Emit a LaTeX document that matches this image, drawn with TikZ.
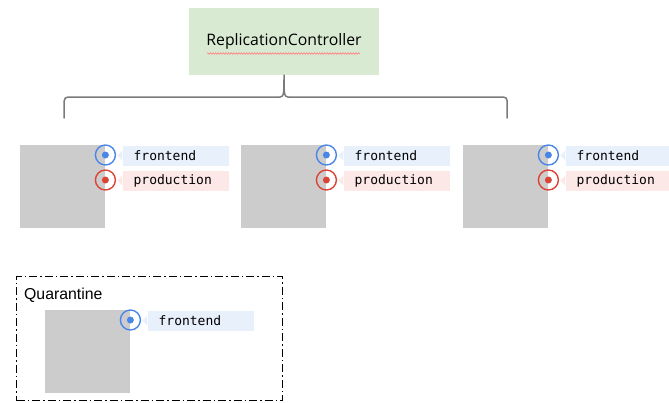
\documentclass[tikz,border=0pt]{standalone}
\usepackage{fontspec}
\setmainfont{Liberation Sans}
\newfontfamily\rcfont{Open Sans}
\newfontfamily\labelfont{DejaVu Sans Mono}
\usetikzlibrary{calc,decorations.pathmorphing}

\definecolor{rcgreen}{HTML}{D9EAD3}
\definecolor{podgray}{HTML}{CCCCCC}
\definecolor{selblue}{HTML}{4A86E8}
\definecolor{selred}{HTML}{DB4437}
\definecolor{tagblue}{HTML}{E8F0FC}
\definecolor{tagred}{HTML}{FCE8E6}
\definecolor{bracegray}{HTML}{7A7A7A}

\tikzset{
  controller/.style={fill=rcgreen, minimum width=190pt, minimum height=67pt, inner sep=0,
    font=\rcfont\fontsize{15.8}{18}\selectfont},
  pod/.style={fill=podgray, minimum width=85pt, minimum height=83pt, inner sep=0, anchor=north west},
  selring/.style={circle, draw=#1, line width=1.4pt, minimum size=20pt, inner sep=0},
  seldot/.style={circle, fill=#1, minimum size=7pt, inner sep=0},
  tag/.style={fill=#1, minimum width=106pt, minimum height=20pt, inner xsep=11pt, inner ysep=0,
    anchor=west, text width=84pt, align=left, font=\labelfont\fontsize{13}{15}\selectfont},
  brace/.style={draw=bracegray, line width=1.5pt, line cap=round, line join=round},
  quarantine/.style={draw=black, line width=1.4pt, dash pattern=on 8pt off 3pt on 1.5pt off 3pt},
}

% a selector ring with its dot and a tag label to its right
\newcommand{\selector}[4]{% name, anchor point, colour name, label
  \node[selring=sel#3] (#1) at (#2) {};
  \node[seldot=sel#3] at (#1.center) {};
  \node[tag=tag#3] (#1t) at ($(#1.center)+(17,0.5)$) {#4};
  \fill[tag#3] ($(#1t.west)+(0,-5)$) -- ($(#1t.west)+(-5,0)$) -- ($(#1t.west)+(0,5)$) -- cycle;
}

\begin{document}
\begin{tikzpicture}[x=1pt, y=-1pt]
  \useasboundingbox (0,0) rectangle (669,402);

  % replication controller
  \node[controller] (rc) at (284,41.5) {\raisebox{-2pt}{ReplicationController}};
  \draw[decorate, decoration={snake, amplitude=0.8pt, segment length=2.6pt},
        red!50, line width=0.6pt] ($(rc.center)+(-77,12)$) -- ($(rc.center)+(76,12)$);

  % managed pods
  \foreach \i/\x in {1/20, 2/241, 3/463} {
    \node[pod] (p\i) at (\x,145) {};
    \selector{fe\i}{$(p\i.north east)+(0,10)$}{blue}{frontend}
    \selector{pr\i}{$(p\i.north east)+(0,35)$}{red}{production}
  }

  % brace from the controller to the pods
  \coordinate (bl) at ($(p1.north)+(1.5,-27)$);
  \coordinate (br) at ($(p3.north)+(1.5,-27)$);
  \draw[brace] (bl) -- ++(0,-17) .. controls ++(0,-2.5) and ++(-2.5,0) .. ++(4,-4)
    -- (280,97) .. controls (284,97) and (284,93) .. (rc.south)
    .. controls (284,93) and (284,97) .. (288,97)
    -- ($(br)+(-4,-21)$) .. controls ++(2.5,0) and ++(0,-2.5) .. ($(br)+(0,-17)$) -- (br);

  % quarantined pod
  \node[quarantine, minimum width=266pt, minimum height=124pt, inner sep=0, anchor=north west]
    (q) at (16,276) {};
  \node[anchor=base west, inner sep=0, font=\fontsize{15.8}{18}\selectfont] (qt) at (24,299) {Quarantine};
  \node[pod] (p4) at (45,310) {};
  \selector{fe4}{$(p4.north east)+(0,10)$}{blue}{frontend}
\end{tikzpicture}
\end{document}
